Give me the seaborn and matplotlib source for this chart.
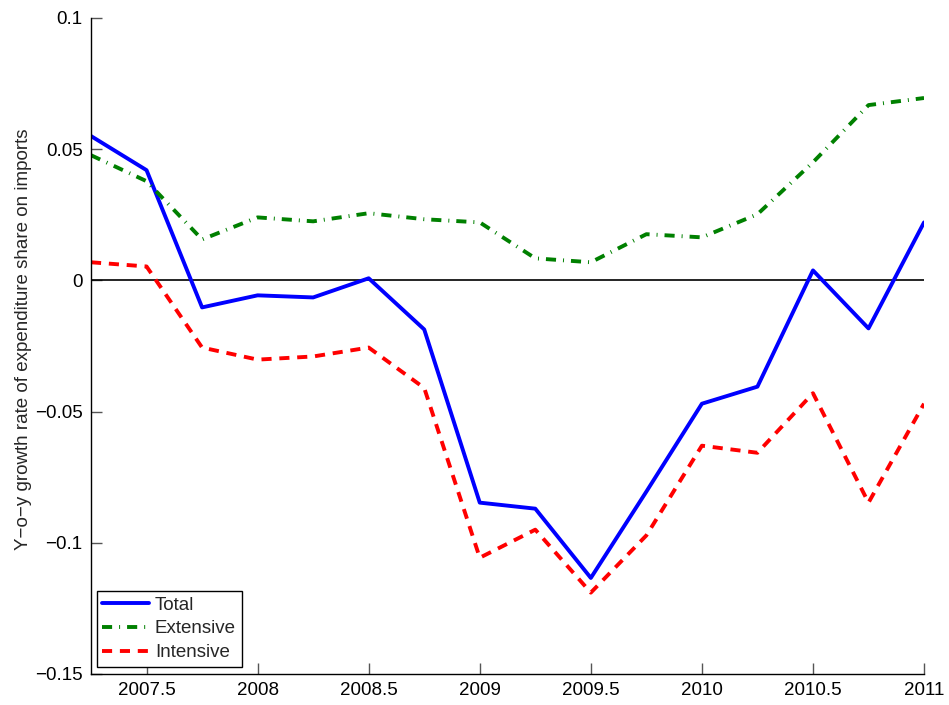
import numpy as np
import pandas as pd
import matplotlib
matplotlib.use("Agg")
import matplotlib.pyplot as plt
import seaborn as sns

quarters = [2007.25, 2007.5, 2007.75, 2008.0, 2008.25, 2008.5, 2008.75, 2009.0,
            2009.25, 2009.5, 2009.75, 2010.0, 2010.25, 2010.5, 2010.75, 2011.0]
total = [0.055, 0.042, -0.0103, -0.0057, -0.0065, 0.0008, -0.0187, -0.0847,
         -0.087, -0.1134, -0.0805, -0.047, -0.0405, 0.0038, -0.0183, 0.0221]
extensive = [0.0477, 0.0378, 0.0156, 0.024, 0.0225, 0.0256, 0.0233, 0.0221,
             0.0084, 0.0069, 0.0176, 0.0164, 0.0252, 0.045, 0.0668, 0.0695]
intensive = [0.0069, 0.0053, -0.0256, -0.0302, -0.029, -0.0256, -0.041, -0.1057,
             -0.095, -0.119, -0.0972, -0.063, -0.0657, -0.043, -0.0847, -0.047]

xticks = [2007.5, 2008, 2008.5, 2009, 2009.5, 2010, 2010.5, 2011]
xtick_labels = ['2007.5', '2008', '2008.5', '2009', '2009.5', '2010', '2010.5', '2011']
yticks = [-0.15, -0.1, -0.05, 0, 0.05, 0.1]
ytick_labels = ['\u22120.15', '\u22120.1', '\u22120.05', '0', '0.05', '0.1']

sns.set_style("ticks")
plt.rcParams['font.family'] = ['Liberation Sans', 'DejaVu Sans']
plt.rcParams['font.size'] = 13.5

fig = plt.figure(figsize=(9.49, 7.05), dpi=100)
ax = fig.add_axes([0.0959, 0.044, 0.8778, 0.9305])

df = pd.DataFrame({'quarter': quarters, 'Total': total,
                   'Extensive': extensive, 'Intensive': intensive})

lw = 2.8
sns.lineplot(data=df, x='quarter', y='Total', ax=ax, color='#0000ff',
             linewidth=lw, label='Total')
sns.lineplot(data=df, x='quarter', y='Extensive', ax=ax, color='#008000',
             linewidth=lw, label='Extensive')
sns.lineplot(data=df, x='quarter', y='Intensive', ax=ax, color='#ff0000',
             linewidth=lw, label='Intensive')
lines = ax.get_lines()
lines[1].set_dashes((2.6, 1.8, 0.25, 1.8))
lines[2].set_dashes((2.6, 2.0))

ax.axhline(0, color='black', linewidth=1.2, zorder=1)

ax.set_xlim(2007.25, 2011)
ax.set_ylim(-0.15, 0.1)
ax.set_xticks(xticks)
ax.set_xticklabels(xtick_labels)
ax.set_yticks(yticks)
ax.set_yticklabels(ytick_labels)
ax.tick_params(direction='in', length=8, width=1, color='#555555',
               labelsize=13.5, labelcolor='black', pad=6)
for s in ['top', 'right']:
    ax.spines[s].set_visible(False)
for s in ['left', 'bottom']:
    ax.spines[s].set_color('black')
    ax.spines[s].set_linewidth(1)

ax.set_xlabel('')
ax.set_ylabel('Y\u2212o\u2212y growth rate of expenditure share on imports',
              fontsize=13.5)
ax.yaxis.set_label_coords(-0.071, 0.511)

leg = ax.legend(loc='lower left', bbox_to_anchor=(0.007, 0.011), frameon=True,
                fancybox=False, edgecolor='black', framealpha=1,
                fontsize=13.5, handlelength=2.5, handletextpad=0.3,
                borderpad=0.3, labelspacing=0.35, borderaxespad=0)
leg.get_frame().set_linewidth(1)

fig.savefig('out.png', dpi=100)
